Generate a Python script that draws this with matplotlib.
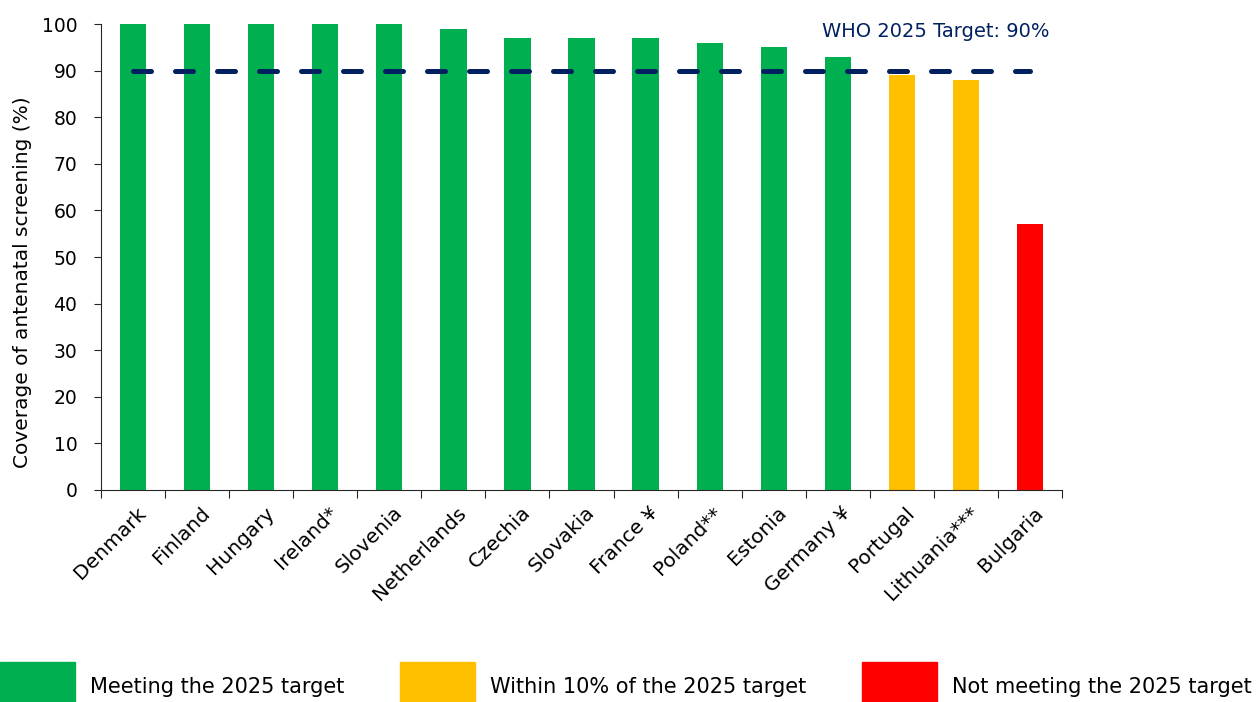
import matplotlib.pyplot as plt
from matplotlib.patches import Rectangle

countries = ['Denmark', 'Finland', 'Hungary', 'Ireland*', 'Slovenia', 'Netherlands',
             'Czechia', 'Slovakia', 'France ¥', 'Poland**', 'Estonia', 'Germany ¥',
             'Portugal', 'Lithuania***', 'Bulgaria']
coverage = [100, 100, 100, 100, 100, 99, 97, 97, 97, 96, 95, 93, 89, 88, 57]
target = 90
legend_labels = ['Meeting the 2025 target', 'Within 10% of the 2025 target',
                 'Not meeting the 2025 target']

GREEN = '#00B050'
AMBER = '#FFC000'
RED = '#FF0000'
NAVY = '#002060'
AXIS = '#262626'


def bar_colour(v):
    if v >= target:
        return GREEN
    if v >= target - 10:
        return AMBER
    return RED


plt.rcParams['font.family'] = ['DejaVu Sans']
fig = plt.figure(figsize=(12.58, 7.02), dpi=100)
ax = fig.add_axes([0.0803, 0.302, 0.7639, 0.6638])

x = list(range(len(countries)))
ax.bar(x, coverage, width=0.41, color=[bar_colour(v) for v in coverage], zorder=2)
ax.plot([x[0], x[-1]], [target, target], color=NAVY, lw=3.6, ls=(0, (3.6, 4.8)),
        dash_capstyle='round', zorder=3, clip_on=False)
ax.text(x[-1] + 0.3, 98.3, 'WHO 2025 Target: 90%', color=NAVY, fontsize=14,
        ha='right', va='center')

ax.set_xlim(-0.5, len(countries) - 0.5)
ax.set_ylim(0, 100)
ax.set_yticks(range(0, 101, 10))
ax.tick_params(axis='y', labelsize=13.5, length=5, pad=12, color=AXIS)
ax.set_xticks([i - 0.5 for i in range(len(countries) + 1)])
ax.set_xticklabels([])
ax.tick_params(axis='x', length=6, color=AXIS)
for i, c in enumerate(countries):
    ax.text(i + 0.05, -2.8, c, rotation=45, ha='right', va='top', fontsize=14.5,
            rotation_mode='anchor')
ax.set_ylabel('Coverage of antenatal screening (%)', fontsize=14.5)
ax.yaxis.set_label_coords(-0.072, 0.445)
ax.spines['top'].set_visible(False)
ax.spines['right'].set_visible(False)
ax.spines['left'].set_color(AXIS)
ax.spines['bottom'].set_color(AXIS)

W, H = 1258, 702
for (x0, tx), col, lab in zip([(0, 90), (400, 490), (862, 952)],
                              [GREEN, AMBER, RED], legend_labels):
    fig.patches.append(Rectangle((x0 / W, 0), 75 / W, 40 / H, color=col,
                                 transform=fig.transFigure, figure=fig))
    fig.text(tx / W, 15 / H, lab, fontsize=15, va='center', ha='left')

fig.savefig('out.png', dpi=100)
